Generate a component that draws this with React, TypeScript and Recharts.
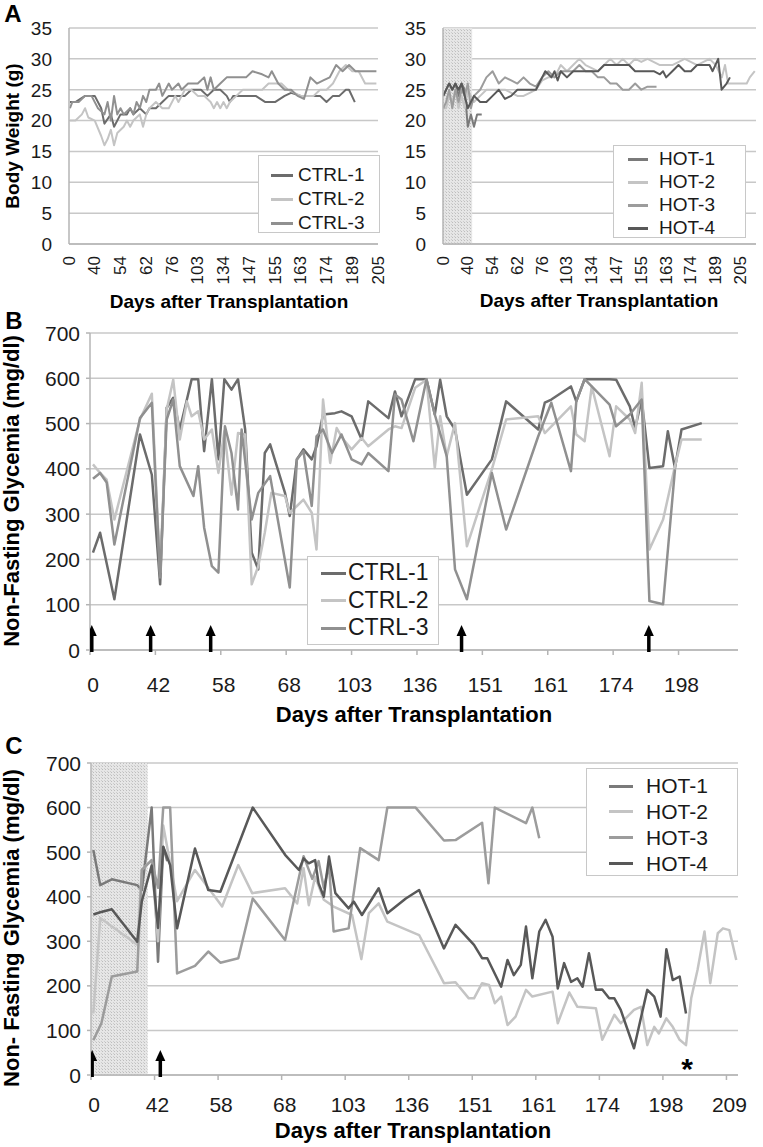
import React from "react";
import {
  ComposedChart,
  Line,
  XAxis,
  YAxis,
  CartesianGrid,
  ReferenceArea,
  Scatter,
} from "recharts";

const FONT = '"Liberation Sans", Arial, sans-serif';
const GRID = "#c8c8c8";
const AXIS = "#b4b4b4";
const INK = "#1a1a1a";

// tick labels (days after transplantation)
const weightDays = ["0", "40", "54", "62", "76", "103", "134", "147", "155", "163", "174", "189", "205"];
const glyDaysB = ["0", "42", "58", "68", "103", "136", "151", "161", "174", "198"];
const glyDaysC = ["0", "42", "58", "68", "103", "136", "151", "161", "174", "198", "209"];

const weightTicks = [0, 5, 10, 15, 20, 25, 30, 35];
const glyTicks = [0, 100, 200, 300, 400, 500, 600, 700];

const ctrlNames = ["CTRL-1", "CTRL-2", "CTRL-3"];
const hotNames = ["HOT-1", "HOT-2", "HOT-3", "HOT-4"];
const ctrlColors = ["#6c6c6c", "#c4c4c4", "#909090"];
const hotColors = ["#7a7a7a", "#c4c4c4", "#9c9c9c", "#585858"];

// [position on category axis, value]
// panel A, body weight (g)
const ctrl1Weight = [[0.3,23],[2,23],[5,24],[8,24],[10,22],[11,19.5],[13,21],[14,19],[16,21],[18,21],[19,22],[20,21],[22,22],[24,21],[25,22],[27,22],[29,23],[31,24],[33,24],[36,24],[38,25],[41,25],[43,24],[45,25],[47,25],[49,24],[50,23],[51,24],[53,24],[56,24],[58,24],[61,23],[64,23],[67,24],[69,24.5],[72,24],[75,24],[78,24],[80,23],[82,24],[84,24],[86,25],[87,25],[88.8,23]];
const ctrl2Weight = [[0.3,20],[2,20],[4,21],[5,22],[6,20.5],[8,20],[10,17.5],[11,16],[12,17],[13,18.5],[14,16],[15,18],[17,19],[18,20],[19,19],[20,20],[22,21],[23,19],[24,21],[25,22],[27,23],[29,22],[31,22],[33,24],[34,23],[35,24],[36,25],[38,25],[40,24],[42,24],[44,23],[45,22],[46,23],[47,22],[48,23],[49,22],[50,23],[52,24],[54,25],[56,25],[60,25],[62,26],[64,26],[66,26],[68,25],[70,24.5],[72,24],[74,24],[76,24],[78,25],[80,25],[82,26],[84,28],[86,29],[88,28],[90,28],[92,26],[95.5,26]];
const ctrl3Weight = [[0.3,22],[1,23],[3,23],[5,24],[7,24],[9,22],[11,21],[12,23],[13,20],[14,24],[15,21],[16,22],[17,21],[19,22],[20,21],[21,23],[22,22],[23,24],[24,23],[25,25],[27,25],[28,26],[29,24],[31,26],[32,25],[34,26],[35,25],[37,26],[40,26],[42,27],[43,25],[44,27],[45,25],[47,26],[49,27],[53,27],[55,27],[57,28],[60,27.5],[62,27],[63,28],[65,26],[67,25],[69,25],[71,24],[73,23.5],[75,27],[77,26],[79,26.5],[81,27],[83,29],[85,28],[87,29],[89,28],[95.5,28]];

const hot1Weight = [[0.1,24],[1,25],[2,26],[3,25],[4,26],[5,24],[6,26],[7,25],[8,19],[9,21],[10,19],[11,21],[12.5,21]];
const hot2Weight = [[0.1,22],[1,22],[2,24],[3,23],[4,25],[5,22],[6,24],[7,22],[8,25],[9,24],[10,23],[12,24],[14,25],[16,25],[18,25],[20,25],[22,24.5],[24,24],[26,24],[28,24.5],[30,25],[32,26.5],[34,27],[36,27],[38,29],[40,28],[42,29],[44,30],[46,29],[48,28.5],[50,28],[52,29],[54,30],[56,29],[58,30],[60,29],[62,30],[64,29.5],[66,30],[70,29],[74,29],[78,30],[82,29],[86,30],[88,29],[89,28],[90,27],[91,29],[92,26],[95,26],[98,26],[99,27],[100.6,28]];
const hot3Weight = [[0.1,22],[1,23],[2,25],[3,22],[4,25],[5,23],[6,25],[7,24],[8,26],[9,22],[10,24],[12,25],[14,27],[16,28],[18,26],[20,27],[22,26.5],[24,26],[26,27],[28,26],[30,25.5],[32,27],[34,28],[36,27],[38,28],[40,28],[42,28],[44,29],[46,28],[48,28],[50,27],[52,27],[54,26],[56,26],[58,25],[60,25],[62,26],[64,25],[66,25.5],[68.9,25.5]];
const hot4Weight = [[0.1,24],[1,25],[2,26],[3,25],[4,26],[5,25],[6,26],[7,24],[8,22],[9,23],[10,24],[12,23],[14,23],[16,24],[18,25],[20,23.5],[22,24],[24,25],[26,25],[28,25],[30,25],[32,27],[33,28],[35,27],[36,28],[37,26.5],[38,28],[40,27],[42,28],[44,28],[46,28],[48,28],[50,28],[52,29],[54,29],[56,29],[58,29],[60,29],[62,28],[66,28],[68,28],[70,27.5],[71,28],[72,27],[74,28],[76,29],[78,28],[80,28],[82,29],[84,29],[86,29],[87,28],[88.8,30],[89.9,25],[91.5,26],[92.6,27]];

// panel B, non-fasting glycemia (mg/dl), controls
const ctrl1Gly = [[0.5,215],[1.7,259],[4.1,112],[8.4,476],[10.4,387],[11.8,145],[12.9,535],[14,557],[15.1,487],[16.3,553],[17.1,598],[18.2,598],[19.2,439],[20.5,598],[21.6,421],[22.6,598],[23.8,575],[24.9,598],[26.1,487],[27.2,215],[28.3,178],[29.4,435],[30.3,454],[32.8,347],[33.6,296],[34.8,421],[35.9,443],[37.3,421],[38.1,450],[39.2,520],[41.2,523],[42.3,527],[44,516],[45.7,465],[46.8,549],[50.2,512],[51.3,571],[52.4,516],[54.7,598],[56.6,598],[58,520],[58.9,597],[60,516],[61.4,487],[63.4,343],[67.6,421],[70,549],[75.4,487],[76.5,546],[77.6,553],[80.9,582],[81.8,549],[83.2,598],[87.4,598],[88.5,597],[90.8,538],[91.7,490],[92.8,553],[94.1,402],[96.4,406],[97.2,483],[98.4,402],[99.5,487],[102.9,501]];
const ctrl2Gly = [[0.5,410],[1.7,391],[2.8,376],[4.1,288],[8.4,509],[10.4,566],[11.8,171],[12.9,531],[14,597],[15.1,465],[16.3,549],[17.1,516],[18.2,527],[19.2,465],[20.5,487],[21.6,391],[22.6,483],[23.8,343],[24.9,479],[26.1,476],[27.2,145],[28.3,185],[29.4,259],[30.5,347],[32.8,340],[33.6,303],[34.8,318],[35.9,332],[37.3,303],[38.1,222],[39.2,553],[40.4,413],[41.5,490],[42.6,465],[44,443],[45.7,468],[46.8,450],[50.2,487],[51.3,494],[52.4,490],[54.7,579],[56.6,597],[58,402],[58.9,516],[60,428],[61.4,501],[63.4,229],[67.6,399],[70,509],[75.4,516],[76.5,479],[80.9,538],[81.8,476],[83.2,461],[84.4,582],[87.4,428],[88.5,538],[90.8,509],[91.7,479],[92.8,590],[94.1,222],[96.4,288],[98.4,406],[99.5,465],[102.9,465]];
const ctrl3Gly = [[0.5,378],[1.7,391],[2.8,370],[4.1,233],[8.4,512],[10.4,546],[11.8,160],[12.9,509],[14,553],[15.1,406],[17.4,340],[18.2,406],[19.2,270],[20.5,185],[21.6,171],[22.7,494],[23.8,435],[24.9,310],[25.5,487],[27.2,288],[28.3,347],[30.3,384],[33.6,138],[34.8,421],[35.9,439],[37.3,318],[38.1,472],[39.2,487],[40.7,435],[42.3,476],[44,421],[45.7,410],[46.8,435],[50.2,395],[51.3,564],[52.4,553],[54.4,461],[56.6,598],[58,520],[60,428],[61.4,178],[63.4,112],[67.6,391],[70,266],[75.4,472],[77.6,546],[80.9,395],[81.8,549],[83.2,598],[87.4,542],[88.5,494],[90.8,520],[92.8,553],[94.1,108],[96.4,101],[98.4,399]];

// panel C, non-fasting glycemia (mg/dl), HOT
const hot1Gly = [[0.4,505],[1.6,426],[3.6,439],[8,426],[8.8,415],[10.5,600],[11.6,254],[12.5,512],[13.2,480]];
const hot2Gly = [[0.4,138],[1.6,352],[8,292],[8.8,460],[10.5,482],[11.6,300],[12.5,560],[13.7,475],[14.9,390],[18,460],[20.3,420],[22.7,378],[25.5,471],[27.9,408],[33.6,419],[35.7,385],[36.8,464],[37.7,381],[38.8,445],[40.3,393],[42,378],[45.2,359],[46.8,260],[48.1,363],[49.8,385],[51.3,344],[56.8,314],[61.1,206],[63.1,208],[65.4,172],[66.3,172],[67.7,206],[68.9,202],[69.9,161],[71,176],[72.1,112],[73.5,131],[75.3,191],[76.4,176],[79.9,187],[80.8,116],[82.8,185],[84.2,153],[87.4,150],[88.5,79],[90.6,135],[91.7,116],[94,146],[95.2,153],[96.3,67],[97.5,108],[98.3,93],[99.6,127],[100.7,108],[101.9,79],[103,67],[103.9,172],[105,236],[106.2,322],[107.2,206],[108.5,318],[109.4,329],[110.5,325],[111.7,258]];
const hot3Gly = [[0.4,78],[1.8,116],[3.6,221],[8,232],[8.8,460],[10.5,482],[11.6,420],[12.5,600],[13.7,600],[14.9,228],[18,245],[20.3,277],[22.4,252],[25.5,262],[28,396],[33.6,303],[36.8,491],[38.3,440],[39.4,480],[40.3,420],[41.2,470],[42,322],[44.6,329],[46.6,509],[49.8,482],[51.3,600],[56.2,600],[61.1,526],[63.1,527],[67.7,566],[68.8,430],[69.9,600],[75.3,565],[76.4,600],[77.6,531]];
const hot4Gly = [[0.4,360],[1.6,365],[3.6,372],[8,299],[8.8,390],[10.5,470],[11.6,330],[12.5,512],[13.7,471],[14.9,329],[18,508],[20.3,415],[22.4,411],[28,600],[33.6,494],[36,460],[36.8,486],[37.7,475],[38.8,482],[39.4,430],[40.3,400],[41.2,490],[42.3,408],[44.6,374],[45.5,389],[46.9,359],[49.8,419],[51.3,363],[54.5,396],[56.8,415],[61.1,284],[63.1,337],[66.3,292],[67.7,262],[68.6,262],[71,198],[72.1,258],[73.2,224],[74.4,247],[75.3,333],[76.4,217],[77.6,322],[78.7,348],[79.9,310],[80.8,194],[81.9,251],[83.1,209],[84.2,217],[85.1,198],[86.2,273],[87.4,191],[88.5,192],[89.7,172],[90.6,172],[91.7,146],[94,60],[96.3,191],[97.5,176],[98.6,131],[99.6,282],[100.7,213],[101.9,221],[103,138]];

// transplant arrows and asterisk (category positions)
const arrowsB = [0.3, 10.2, 20.3, 62.5, 94];
const arrowsC = [0.2, 12];
const starC = [[103.2, 29]];

const ArrowMark = (p: any) => {
  const { cx, cy } = p;
  return (
    <g>
      <line x1={cx} y1={cy + 2} x2={cx} y2={cy - 15} stroke="#000" strokeWidth={3.5} />
      <path d={`M${cx - 5},${cy - 14} L${cx},${cy - 25} L${cx + 5},${cy - 14} Z`} fill="#000" />
    </g>
  );
};

const StarMark = (p: any) => (
  <text x={p.cx} y={p.cy + 17} textAnchor="middle" fontSize={30} fontWeight="bold" fontFamily={FONT} fill="#000">
    *
  </text>
);

type PanelProps = {
  left: number;
  top: number;
  width: number;
  height: number;
  margin: { top: number; right: number; bottom: number; left: number };
  yAxisWidth: number;
  xAxisHeight: number;
  xMax: number;
  tickStep: number;
  tickLabels: string[];
  yTicks: number[];
  series: number[][][];
  colors: string[];
  lineWidth: number;
  shadeTo?: number;
  patternId: string;
  arrows?: number[];
  stars?: number[][];
  rotated?: boolean;
  xFont: number;
  yFont: number;
  xTickSize: number;
  xTickMargin: number;
  yTickSize: number;
  yTickMargin: number;
};

function Panel(p: PanelProps) {
  const ticks = p.tickLabels.map((_, i) => i * p.tickStep);
  const label = (v: number) => p.tickLabels[Math.round(v / p.tickStep)] ?? "";
  const XTick = (t: any) =>
    p.rotated ? (
      <text
        x={t.x}
        y={t.y}
        transform={`rotate(-90 ${t.x} ${t.y})`}
        textAnchor="end"
        dominantBaseline="central"
        fontSize={p.xFont}
        fontFamily={FONT}
        fill={INK}
      >
        {label(t.payload.value)}
      </text>
    ) : (
      <text x={t.x + 3} y={t.y + p.xFont * 0.72} textAnchor="middle" fontSize={p.xFont} fontFamily={FONT} fill={INK}>
        {label(t.payload.value)}
      </text>
    );
  const YTick = (t: any) => (
    <text x={t.x} y={t.y + p.yFont * 0.36} textAnchor="end" fontSize={p.yFont} fontFamily={FONT} fill={INK}>
      {t.payload.value}
    </text>
  );
  const yMax = p.yTicks[p.yTicks.length - 1];

  return (
    <div style={{ position: "absolute", left: p.left, top: p.top }}>
      <ComposedChart width={p.width} height={p.height} margin={p.margin}>
        <defs>
          <pattern id={p.patternId} width="3" height="3" patternUnits="userSpaceOnUse">
            <rect width="3" height="3" fill="#e6e6e6" />
            <rect width="1" height="1" fill="#bdbdbd" />
            <rect x="2" y="2" width="1" height="1" fill="#cdcdcd" />
          </pattern>
        </defs>
        {p.shadeTo !== undefined && (
          <ReferenceArea x1={0} x2={p.shadeTo} fill={`url(#${p.patternId})`} fillOpacity={1} stroke="none" />
        )}
        <CartesianGrid vertical={false} stroke={GRID} strokeWidth={1.5} />
        <XAxis
          type="number"
          dataKey="x"
          domain={[0, p.xMax]}
          ticks={ticks}
          interval={0}
          height={p.xAxisHeight}
          tick={XTick}
          tickSize={p.xTickSize}
          tickMargin={p.xTickMargin}
          tickLine={p.xTickSize > 0 ? { stroke: AXIS, strokeWidth: 1.5 } : false}
          axisLine={{ stroke: AXIS, strokeWidth: 1.5 }}
          allowDataOverflow
        />
        <YAxis
          type="number"
          dataKey="y"
          domain={[0, yMax]}
          ticks={p.yTicks}
          interval={0}
          width={p.yAxisWidth}
          tick={YTick}
          tickSize={p.yTickSize}
          tickMargin={p.yTickMargin}
          tickLine={p.yTickSize > 0 ? { stroke: AXIS, strokeWidth: 1.5 } : false}
          axisLine={{ stroke: AXIS, strokeWidth: 1.5 }}
        />
        {p.series.map((s, i) => (
          <Line
            key={i}
            data={s.map(([x, y]) => ({ x, y }))}
            dataKey="y"
            stroke={p.colors[i]}
            strokeWidth={p.lineWidth}
            strokeLinejoin="round"
            dot={false}
            activeDot={false}
            isAnimationActive={false}
          />
        ))}
        {p.arrows && (
          <Scatter data={p.arrows.map((x) => ({ x, y: 0 }))} shape={ArrowMark} isAnimationActive={false} />
        )}
        {p.stars && (
          <Scatter data={p.stars.map(([x, y]) => ({ x, y }))} shape={StarMark} isAnimationActive={false} />
        )}
      </ComposedChart>
    </div>
  );
}

function Txt({ x, y, size, rotate, bold = true, children }: any) {
  return (
    <div
      style={{
        position: "absolute",
        left: x,
        top: y,
        transform: `translate(-50%, -50%)${rotate ? " rotate(-90deg)" : ""}`,
        fontFamily: FONT,
        fontSize: size,
        fontWeight: bold ? "bold" : "normal",
        whiteSpace: "nowrap",
        lineHeight: 1,
        color: "#000",
      }}
    >
      {children}
    </div>
  );
}

function LegendBox({ left, top, width, height, names, colors, font, firstRow, rowGap, symX, symW, textX }: any) {
  return (
    <div
      style={{
        position: "absolute",
        left,
        top,
        width,
        height,
        boxSizing: "border-box",
        border: "1.5px solid #c8c8c8",
        background: "#fff",
        fontFamily: FONT,
        fontSize: font,
        color: INK,
      }}
    >
      {names.map((n: string, i: number) => {
        const cy = firstRow + i * rowGap - top;
        return (
          <React.Fragment key={n}>
            <div
              style={{ position: "absolute", left: symX, top: cy - 1.5, width: symW, height: 3, background: colors[i] }}
            />
            <div style={{ position: "absolute", left: textX, top: cy - font * 0.6, lineHeight: `${font * 1.2}px` }}>
              {n}
            </div>
          </React.Fragment>
        );
      })}
    </div>
  );
}

export default function App() {
  return (
    <div style={{ position: "absolute", left: 0, top: 0, width: 763, height: 1147, background: "#fff", overflow: "hidden" }}>
      {/* Panel A */}
      <Panel
        left={0}
        top={0}
        width={390}
        height={310}
        margin={{ top: 28, right: 12, left: 29, bottom: 0 }}
        yAxisWidth={40}
        xAxisHeight={66}
        xMax={96}
        tickStep={8}
        tickLabels={weightDays}
        yTicks={weightTicks}
        series={[ctrl1Weight, ctrl2Weight, ctrl3Weight]}
        colors={ctrlColors}
        lineWidth={2}
        patternId="shadeA1"
        rotated
        xFont={17}
        yFont={19}
        xTickSize={0}
        xTickMargin={12}
        yTickSize={0}
        yTickMargin={17}
      />
      <Panel
        left={380}
        top={0}
        width={383}
        height={310}
        margin={{ top: 28, right: 7, left: 23, bottom: 0 }}
        yAxisWidth={40}
        xAxisHeight={66}
        xMax={101}
        tickStep={8}
        tickLabels={weightDays}
        yTicks={weightTicks}
        series={[hot1Weight, hot2Weight, hot3Weight, hot4Weight]}
        colors={hotColors}
        lineWidth={2}
        shadeTo={9.4}
        patternId="shadeA2"
        rotated
        xFont={17}
        yFont={19}
        xTickSize={0}
        xTickMargin={12}
        yTickSize={0}
        yTickMargin={17}
      />
      {/* Panel B */}
      <Panel
        left={0}
        top={300}
        width={763}
        height={400}
        margin={{ top: 33, right: 25, left: 40, bottom: 0 }}
        yAxisWidth={50}
        xAxisHeight={50}
        xMax={109}
        tickStep={11}
        tickLabels={glyDaysB}
        yTicks={glyTicks}
        series={[ctrl1Gly, ctrl2Gly, ctrl3Gly]}
        colors={ctrlColors}
        lineWidth={2.5}
        patternId="shadeB"
        arrows={arrowsB}
        xFont={21}
        yFont={21}
        xTickSize={5}
        xTickMargin={22}
        yTickSize={4}
        yTickMargin={6}
      />
      {/* Panel C */}
      <Panel
        left={0}
        top={730}
        width={763}
        height={400}
        margin={{ top: 33, right: 25, left: 41, bottom: 0 }}
        yAxisWidth={50}
        xAxisHeight={55}
        xMax={112}
        tickStep={11}
        tickLabels={glyDaysC}
        yTicks={glyTicks}
        series={[hot1Gly, hot2Gly, hot3Gly, hot4Gly]}
        colors={hotColors}
        lineWidth={2.5}
        shadeTo={9.8}
        patternId="shadeC"
        arrows={arrowsC}
        stars={starC}
        xFont={21}
        yFont={21}
        xTickSize={5}
        xTickMargin={17}
        yTickSize={4}
        yTickMargin={6}
      />

      {/* legends */}
      <LegendBox left={258} top={155} width={122} height={78} names={ctrlNames} colors={ctrlColors} font={19} firstRow={174} rowGap={24} symX={12} symW={22} textX={39} />
      <LegendBox left={613} top={145} width={133} height={93} names={hotNames} colors={hotColors} font={19} firstRow={158} rowGap={23} symX={14} symW={20} textX={45} />
      <LegendBox left={307} top={556} width={132} height={89} names={ctrlNames} colors={ctrlColors} font={23} firstRow={572} rowGap={27.5} symX={13} symW={25} textX={40} />
      <LegendBox left={586} top={768} width={152} height={108} names={hotNames} colors={hotColors} font={21} firstRow={785} rowGap={25.7} symX={22} symW={24} textX={59} />

      {/* panel letters and axis titles */}
      <Txt x={13} y={14} size={24}>A</Txt>
      <Txt x={14} y={321} size={24}>B</Txt>
      <Txt x={14} y={746} size={24}>C</Txt>

      <Txt x={12} y={136} size={19} rotate>Body Weight (g)</Txt>
      <Txt x={229} y={301} size={19}>Days after Transplantation</Txt>
      <Txt x={599} y={300} size={19}>Days after Transplantation</Txt>

      <Txt x={12} y={491} size={22} rotate>Non-Fasting Glycemia (mg/dl)</Txt>
      <Txt x={414} y={715} size={22}>Days after Transplantation</Txt>

      <Txt x={12} y={928} size={22} rotate>Non- Fasting Glycemia (mg/dl)</Txt>
      <Txt x={413} y={1131} size={22}>Days after Transplantation</Txt>
    </div>
  );
}
